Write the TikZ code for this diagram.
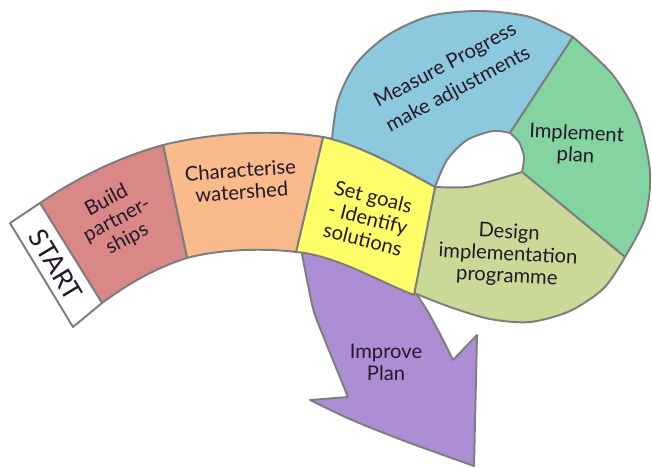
\documentclass[tikz,border=0pt]{standalone}
\usepackage{fontspec}
\setmainfont{Lato}
\usetikzlibrary{calc}
\definecolor{edgegray}{RGB}{125,125,125}
\definecolor{inkdark}{RGB}{35,25,40}
\definecolor{pinkseg}{RGB}{217,135,135}
\definecolor{orangeseg}{RGB}{249,186,140}
\definecolor{yellowseg}{RGB}{255,255,105}
\definecolor{blueseg}{RGB}{140,200,222}
\definecolor{greenseg}{RGB}{132,212,162}
\definecolor{oliveseg}{RGB}{202,216,152}
\definecolor{purpleseg}{RGB}{172,142,212}
\tikzset{
  seg/.style={draw=edgegray, line width=1.1pt, line join=round},
  lbl/.style={align=center, text=inkdark, font=\fontsize{11.5}{12.5}\selectfont}
}

\begin{document}
\begin{tikzpicture}[x=0.02cm, y=-0.02cm]
			%%%%% START %%%%%
			\useasboundingbox (0, 0) rectangle (652, 467);
			
			% arrow out of the loop
			\draw[seg, fill=purpleseg] (330, 245) -- (302, 254)
				-- plot[smooth] coordinates {(302, 254) (308, 285) (314, 312) (324, 338) (337, 370) (348, 397)}
				-- (310, 400)
				-- plot[smooth] coordinates {(310, 400) (352, 420) (402, 440) (446, 456) (474, 466)}
				-- (477, 335) -- (453, 360)
				-- plot[smooth] coordinates {(453, 360) (441, 336) (428, 312) (414, 290)}
				-- (400, 250) -- cycle;
			
			% the loop
			\draw[seg, fill=blueseg] (332, 139)
				-- plot[smooth] coordinates {(332, 139) (338, 100) (356, 64) (388, 35) (430, 16) (480, 11) (530, 17) (573, 37)}
				-- (510, 133)
				-- plot[smooth] coordinates {(510, 133) (493, 131) (467, 140) (447, 160) (435, 187)}
				.. controls (400, 168) and (360, 145) .. (323, 137) -- cycle;
			
			\draw[seg, fill=greenseg] (573, 37)
				-- plot[smooth] coordinates {(573, 37) (612, 74) (638, 118) (650, 172) (645, 218) (625, 257)}
				-- (522, 172)
				-- plot[smooth] coordinates {(522, 172) (524, 157) (519, 142) (510, 133)}
				-- cycle;
			
			\draw[seg, fill=oliveseg] (625, 257)
				-- plot[smooth] coordinates {(625, 257) (604, 288) (570, 311) (530, 322) (490, 319) (450, 307) (414, 293)}
				-- (435, 187)
				-- plot[smooth] coordinates {(435, 187) (467, 187) (495, 180) (522, 172)}
				-- cycle;
			
			% the band
			\draw[seg, fill=yellowseg] (323, 137)
				.. controls (360, 145) and (400, 168) .. (435, 187)
				-- (414, 295)
				.. controls (380, 282) and (335, 255) .. (296, 252) -- cycle;
			
			\draw[seg, fill=orangeseg] (163, 145)
				.. controls (220, 131) and (280, 130) .. (323, 137)
				-- (296, 252)
				.. controls (265, 248) and (220, 249) .. (187, 258) -- cycle;
			
			\draw[seg, fill=pinkseg] (40, 203)
				.. controls (80, 176) and (120, 157) .. (163, 145)
				-- (187, 258)
				.. controls (155, 268) and (128, 284) .. (102, 303) -- cycle;
			
			\draw[seg, fill=white] (10, 223) -- (40, 203) -- (102, 303) -- (73, 327) -- cycle;
			
			% labels
			\node[lbl, font=\fontsize{15}{15}\selectfont, rotate=-59] (start) at (56, 265) {START};
			\node[lbl, rotate=28] (build) at (117, 220) {Build\\partner-\\ships};
			\node[lbl, rotate=4] (characterise) at (241, 181) {Characterise\\watershed};
			\node[lbl, rotate=-14] (goals) at (368, 218) {Set goals\\- Identify\\solutions};
			\node[lbl, font=\fontsize{11.5}{15.5}\selectfont, rotate=28] (measure) at (452, 78) {Measure Progress\\make adjustments};
			\node[lbl, rotate=-3] (implement) at (576, 145) {Implement\\plan};
			\node[lbl, rotate=-3] (design) at (508, 255) {Design\\implementation\\programme};
			\node[lbl] (improve) at (386, 362) {Improve\\Plan};
			
			%%%%% END %%%%%
\end{tikzpicture}
\end{document}
